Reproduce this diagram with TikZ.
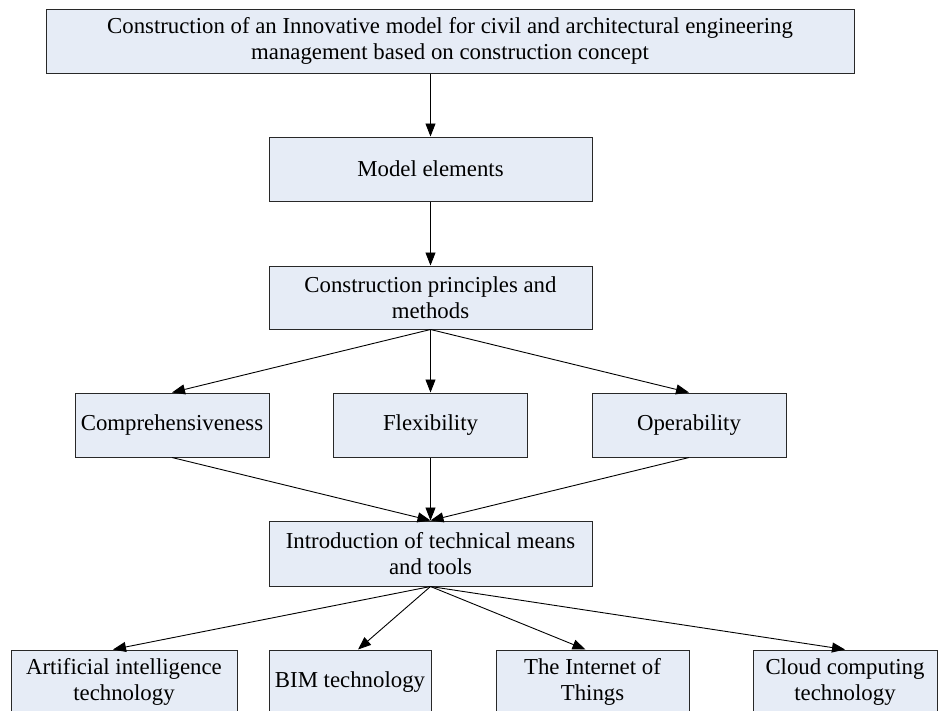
\documentclass[tikz,border=0pt]{standalone}
\usepackage{fontspec}
\setmainfont{Liberation Serif}
\usepackage{tikz}
\usetikzlibrary{arrows.meta}
\definecolor{boxfill}{RGB}{230,236,246}
\definecolor{boxline}{RGB}{40,40,40}

\begin{document}
\begin{tikzpicture}[
    x=1pt, y=-1pt,
    block/.style={rectangle, draw=boxline, fill=boxfill, line width=1pt,
        minimum height=64pt, align=center, inner sep=2pt,
        font=\fontsize{22.8}{26}\selectfont},
    link/.style={line width=0.9pt, -{Triangle[length=13pt, width=10pt]}}
]
\useasboundingbox (0,0) rectangle (939,710);

% Define blocks
\node[block, minimum width=808pt] (top) at (450, 41) {Construction of an Innovative model for civil and architectural engineering\\management based on construction concept};
\node[block, minimum width=323pt] (model) at (430.5, 169) {Model elements};
\node[block, minimum width=323pt, minimum height=63pt] (principle) at (430.5, 297.5) {Construction principles and\\methods};
\node[block, minimum width=194pt] (comp) at (172, 425) {Comprehensiveness};
\node[block, minimum width=194pt] (flex) at (430.5, 425) {Flexibility};
\node[block, minimum width=194pt] (oper) at (689, 425) {Operability};
\node[block, minimum width=323pt, minimum height=65pt] (intro) at (430.5, 553.5) {Introduction of technical means\\and tools};
\node[block, minimum width=226pt] (ai) at (124, 682) {Artificial intelligence\\technology};
\node[block, minimum width=162pt] (bim) at (350, 682) {BIM technology};
\node[block, minimum width=193pt] (iot) at (592.5, 682) {The Internet of\\Things};
\node[block, minimum width=184pt] (cloud) at (845, 682) {Cloud computing\\technology};

% Define links
\draw[link] (model.north |- top.south) -- (model);
\draw[link] (model) -- (principle);
\draw[link] (principle.south) -- (comp.north);
\draw[link] (principle.south) -- (flex.north);
\draw[link] (principle.south) -- (oper.north);
\draw[link] (comp.south) -- (intro.north);
\draw[link] (flex.south) -- (intro.north);
\draw[link] (oper.south) -- (intro.north);
\draw[link] (intro.south) -- ([xshift=-11pt]ai.north);
\draw[link] (intro.south) -- ([xshift=8pt]bim.north);
\draw[link] (intro.south) -- ([xshift=-7pt]iot.north);
\draw[link] (intro.south) -- (cloud.north);

\end{tikzpicture}
\end{document}
